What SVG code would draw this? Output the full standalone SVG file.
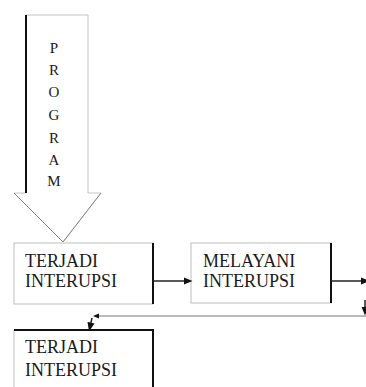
<svg xmlns="http://www.w3.org/2000/svg" width="366" height="387" viewBox="0 0 366 387">
<style>
.t{font-family:"Liberation Serif","Times New Roman",serif;font-size:18px;fill:#1a1a1a}
.p{font-family:"Liberation Serif","Times New Roman",serif;font-size:15px;fill:#1a1a1a;text-anchor:middle}
.box{fill:#fff;stroke:#bdbdbd;stroke-width:1}
.edge{stroke:#111;stroke-width:2;fill:none}
.con{stroke:#222;stroke-width:1.5;fill:none}
</style>
<defs>
<marker id="dot" viewBox="0 0 10 10" refX="5" refY="5" markerWidth="6" markerHeight="6" orient="auto">
<path d="M0,1 L10,5 L0,9 Z" fill="#111"/>
</marker>
</defs>
<rect width="366" height="387" fill="#fff"/>
<g id="program-arrow">
<polygon points="26,15 88,15 88,193 101,193 63,242 14,193 26,193" fill="#fff" stroke="#c4c4c4" stroke-width="1"/>
<line x1="26" y1="15" x2="26" y2="193" class="edge"/>
<line x1="14" y1="193" x2="63" y2="242" stroke="#888" stroke-width="1"/>
<line x1="63" y1="242" x2="101" y2="193" stroke="#888" stroke-width="1"/>
<text class="p" x="54" y="53">P</text>
<text class="p" x="54" y="75">R</text>
<text class="p" x="54" y="97">O</text>
<text class="p" x="54" y="120">G</text>
<text class="p" x="54" y="143">R</text>
<text class="p" x="54" y="165">A</text>
<text class="p" x="54" y="186">M</text>
</g>
<g id="node1">
<rect class="box" x="14" y="243" width="139" height="61"/>
<line x1="153" y1="243" x2="153" y2="304" class="edge"/>
<text class="t" x="25" y="267">TERJADI</text>
<text class="t" x="25" y="287">INTERUPSI</text>
</g>
<g id="node2">
<rect class="box" x="191" y="243" width="140" height="60"/>
<line x1="331" y1="243" x2="331" y2="303" class="edge"/>
<text class="t" x="203" y="267">MELAYANI</text>
<text class="t" x="203" y="287">INTERUPSI</text>
</g>
<g id="node3">
<rect class="box" x="14" y="330" width="139" height="60"/>
<polyline points="14,330 153,330 153,390" class="edge"/>
<text class="t" x="25" y="353">TERJADI</text>
<text class="t" x="25" y="376">INTERUPSI</text>
</g>
<g id="connectors">
<line x1="153" y1="281" x2="188" y2="281" class="con" marker-end="url(#dot)"/>
<line x1="331" y1="281" x2="365" y2="281" class="con" marker-end="url(#dot)"/>
<line x1="365" y1="300" x2="365" y2="311" class="con" marker-end="url(#dot)"/>
<polyline points="366,316 96,316" stroke="#777" stroke-width="1" fill="none" marker-end="url(#dot)"/>
<line x1="92" y1="318" x2="90" y2="327" class="con" marker-end="url(#dot)"/>
</g>
</svg>
